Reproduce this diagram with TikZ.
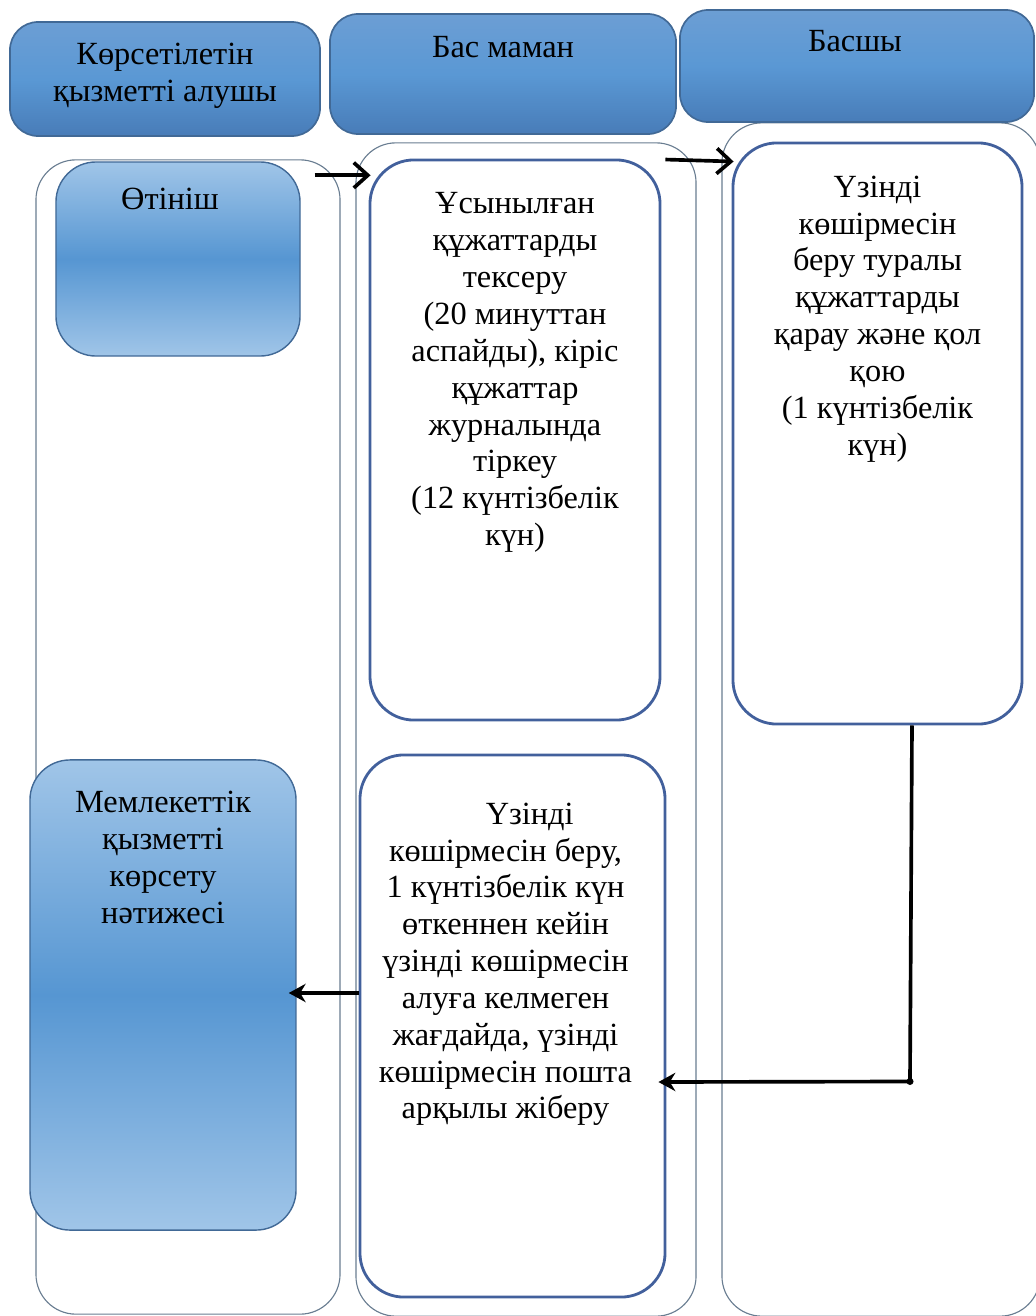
\documentclass[tikz,border=0pt]{standalone}
\usepackage{fontspec}
\setmainfont{Liberation Serif}
\usetikzlibrary{arrows.meta, calc}
\definecolor{headtop}{RGB}{108,158,212}
\definecolor{headmid}{RGB}{90,152,212}
\definecolor{headbot}{RGB}{72,124,184}
\definecolor{boxlight}{RGB}{160,197,232}
\definecolor{boxmid}{RGB}{86,150,210}
\definecolor{boxedge}{RGB}{65,105,150}
\definecolor{laneedge}{RGB}{105,125,145}
\definecolor{whiteedge}{RGB}{66,96,156}
\tikzset{
    my-header/.style={
        rectangle, rounded corners=20pt, draw=boxedge, line width=1.2pt,
        top color=headtop, bottom color=headbot, middle color=headmid
    },
    my-lane/.style={
        rectangle, rounded corners=1cm, draw=laneedge, line width=0.8pt
    },
    my-blue-box/.style={
        rectangle, rounded corners=1cm, draw=boxedge, line width=1pt,
        top color=boxlight, bottom color=boxlight, middle color=boxmid
    },
    my-white-box/.style={
        rectangle, rounded corners=1.1cm, draw=whiteedge, line width=2pt, fill=white
    },
    my-text/.style={
        align=center, inner sep=0pt, font=\fontsize{23pt}{26.2pt}\selectfont
    },
    my-arrow/.style={
        line width=2.6pt, -{Straight Barb[length=10pt, width=18pt, line width=2.6pt]}
    },
    my-arrow-fill/.style={
        line width=2.6pt, -{Stealth[length=12pt, width=13pt]}
    },
    my-branch/.style={
        fill, shape=circle, minimum size=5pt, inner sep=0pt
    },
}
\begin{document}
\begin{tikzpicture}[x=0.025cm, y=-0.025cm]

        \useasboundingbox (0, 0) rectangle (1036, 1316);

        % SWIM LANES -----------------------------------------------------------------------------------
        \node[my-lane, minimum width=7.6cm,  minimum height=28.85cm]  (LANE1) at (188, 737)   {};
        \node[my-lane, minimum width=8.5cm,  minimum height=29.325cm] (LANE2) at (526, 729.5) {};
        \node[my-lane, minimum width=7.95cm, minimum height=29.825cm] (LANE3) at (881, 719.5) {};

        % HEADERS
        \node[my-header, minimum width=7.75cm, minimum height=2.85cm] (HEAD1) at (165, 79) {};
        \node[my-header, minimum width=8.65cm, minimum height=3cm]    (HEAD2) at (503, 74) {};
        \node[my-header, minimum width=8.85cm, minimum height=2.8cm]  (HEAD3) at (857, 66) {};
        \node[my-text] at ($(HEAD1) + (0, -3)$)        {Көрсетілетін\\қызметті алушы};
        \node[my-text] at ($(HEAD2.north) + (0, 34)$)  {Бас маман};
        \node[my-text] at ($(HEAD3.north) + (-2, 32)$) {Басшы};

        % STEP BOXES -----------------------------------------------------------------------------------
        \node[my-blue-box, minimum width=6.1cm, minimum height=4.85cm] (OTINISH) at (178, 259) {};
        \node[my-text, anchor=north] at ($(OTINISH.north) + (-8, 27)$) {Өтініш};

        \node[my-white-box, minimum width=7.25cm, minimum height=14cm] (TEKSERU) at (515, 440) {};
        \node[my-text, anchor=north] at ($(TEKSERU.north) + (0, 34)$)
            {Ұсынылған\\құжаттарды\\тексеру\\(20 минуттан\\аспайды), кіріс\\құжаттар\\журналында\\тіркеу\\(12 күнтізбелік\\күн)};

        \node[my-white-box, minimum width=7.225cm, minimum height=14.525cm] (QARAU) at (877.5, 433.5) {};
        \node[my-text, anchor=north] at ($(QARAU.north) + (0, 34)$)
            {Үзінді\\көшірмесін\\беру туралы\\құжаттарды\\қарау және қол\\қою\\(1 күнтізбелік\\күн)};

        \node[my-white-box, minimum width=7.625cm, minimum height=13.55cm] (BERU) at (512.5, 1026) {};
        \node[my-text, anchor=north] at ($(BERU.north) + (-7, 49)$)
            {\hspace*{1.5em}Үзінді\\көшірмесін беру,\\1 күнтізбелік күн\\өткеннен кейін\\үзінді көшірмесін\\алуға келмеген\\жағдайда, үзінді\\көшірмесін пошта\\арқылы жіберу};

        \node[my-blue-box, minimum width=6.65cm, minimum height=11.75cm] (NATIZHE) at (163, 995) {};
        \node[my-text, anchor=north] at ($(NATIZHE.north) + (0, 32)$)
            {Мемлекеттік\\қызметті\\көрсету\\нәтижесі};

        % CONNECTORS -----------------------------------------------------------------------------------
        \coordinate (ARROW1) at ($(OTINISH.north east) + (14, 14)$);
        \draw[my-arrow] (ARROW1) -- ($(TEKSERU.west |- ARROW1) + (2, 0)$);
        \coordinate (ARROW2) at ($(TEKSERU.north east) + (4, 1)$);
        \draw[my-arrow] (ARROW2) -- ($(QARAU.west |- ARROW2) + (2, 2)$);

        \coordinate (TURN) at ($(QARAU.south) + (32.5, 356)$);
        \draw[line width=2.6pt] ($(QARAU.south) + (34.5, 0)$) -- (TURN);
        \draw[my-arrow-fill] (TURN) -- ($(BERU.east) + (-8, 56)$);
        \node[my-branch] at (TURN) {};

        \draw[my-arrow-fill] ($(BERU.west) + (0, -33)$) -- ($(NATIZHE.east) + (-8, -2)$);

    \end{tikzpicture}
\end{document}
